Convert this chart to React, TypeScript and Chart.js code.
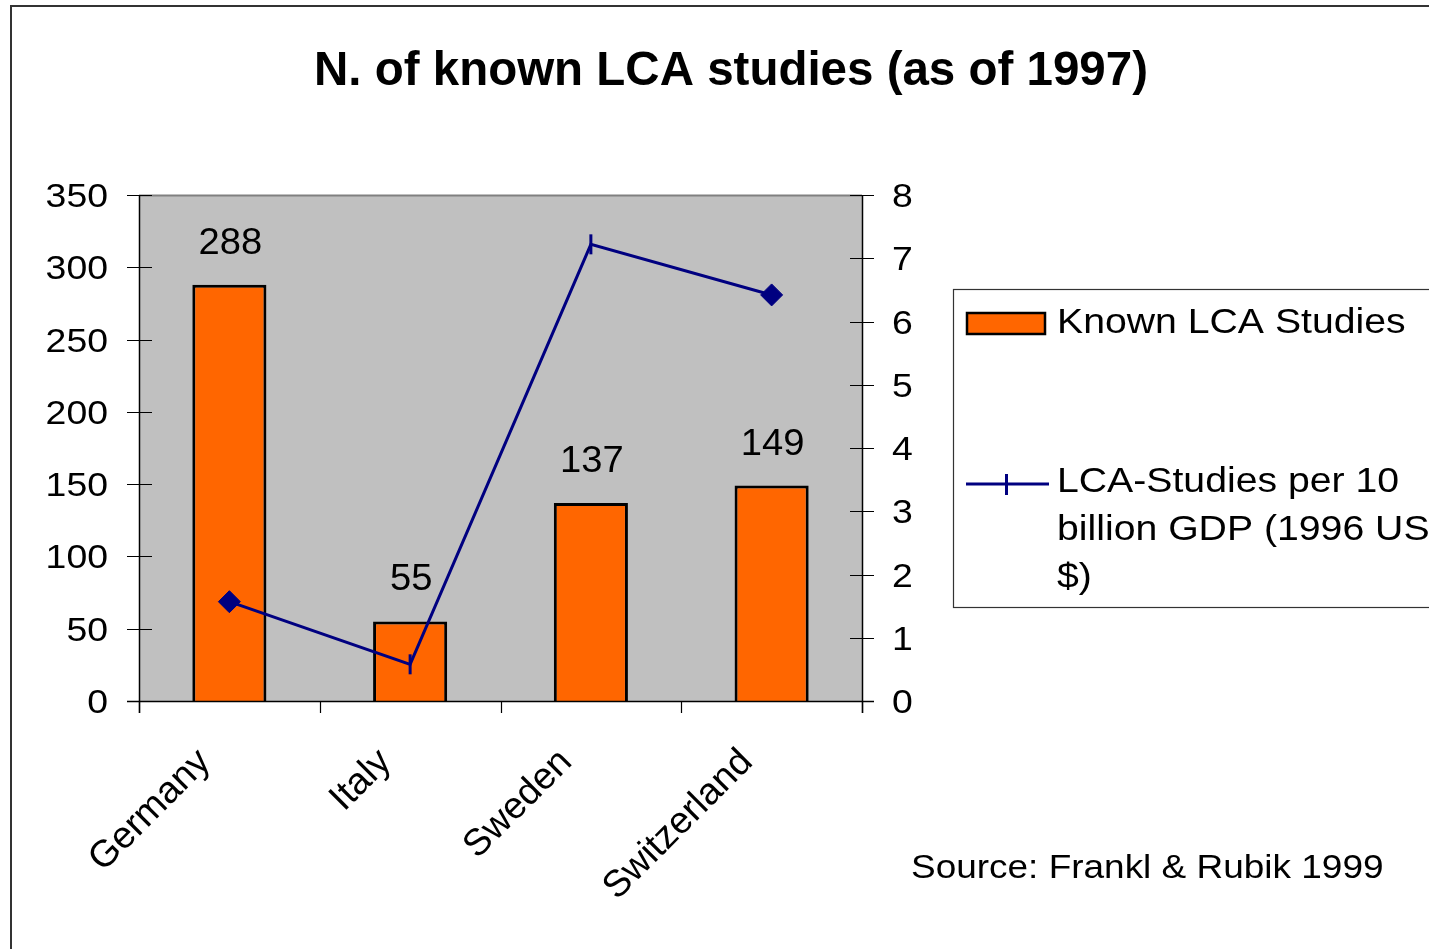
import React, { useEffect, useRef } from "react";
import { Chart, registerables } from "chart.js";

Chart.register(...registerables);

const categories = ["Germany", "Italy", "Sweden", "Switzerland"];
const knownStudies = [288, 55, 137, 149];
const perGdp = [1.57, 0.58, 7.22, 6.42];
const leftTicks = [0, 50, 100, 150, 200, 250, 300, 350];
const rightTicks = [0, 1, 2, 3, 4, 5, 6, 7, 8];
const titleText = "N. of known LCA studies (as of 1997)";
const barLabel = "Known LCA Studies";
const lineLabelLines = ["LCA-Studies per 10", "billion GDP (1996 US", "$)"];
const sourceText = "Source: Frankl & Rubik 1999";

const FONT = "'Liberation Sans', Arial, sans-serif";

function txt(ctx: CanvasRenderingContext2D, s: string, x: number, y: number, font: string, sx: number, align: CanvasTextAlign) {
  ctx.save();
  ctx.font = font;
  ctx.textAlign = align;
  ctx.textBaseline = "alphabetic";
  ctx.fillStyle = "#000";
  ctx.translate(x, y);
  ctx.scale(sx, 1);
  ctx.fillText(s, 0, 0);
  ctx.restore();
}

const decorPlugin = {
  id: "decor",
  beforeDatasetsDraw(chart: any) {
    const { ctx, chartArea: a } = chart;
    ctx.save();
    ctx.fillStyle = "#C0C0C0";
    ctx.fillRect(a.left, a.top, a.right - a.left, a.bottom - a.top);
    ctx.strokeStyle = "#808080";
    ctx.lineWidth = 2;
    ctx.beginPath();
    ctx.moveTo(a.left, a.top + 0.5);
    ctx.lineTo(a.right, a.top + 0.5);
    ctx.stroke();
    ctx.restore();
  },
  afterDatasetsDraw(chart: any) {
    const { ctx, chartArea: a } = chart;
    const xs = chart.scales.x;
    const ys = chart.scales.y;
    const y1 = chart.scales.y1;
    ctx.save();
    // axes
    ctx.strokeStyle = "#000";
    ctx.lineWidth = 1.5;
    ctx.beginPath();
    ctx.moveTo(a.left + 0.5, a.top);
    ctx.lineTo(a.left + 0.5, a.bottom + 12);
    ctx.moveTo(a.right + 0.5, a.top);
    ctx.lineTo(a.right + 0.5, a.bottom + 12);
    ctx.moveTo(a.left - 12, a.bottom + 0.5);
    ctx.lineTo(a.right + 12, a.bottom + 0.5);
    ctx.stroke();
    ctx.lineWidth = 1.2;
    ctx.beginPath();
    leftTicks.forEach((v) => {
      const y = Math.round(ys.getPixelForValue(v)) + 0.5;
      ctx.moveTo(a.left - 12, y);
      ctx.lineTo(a.left + 13, y);
    });
    rightTicks.forEach((v) => {
      const y = Math.round(y1.getPixelForValue(v)) + 0.5;
      ctx.moveTo(a.right - 12, y);
      ctx.lineTo(a.right + 12, y);
    });
    const cw = xs.getPixelForValue(1) - xs.getPixelForValue(0);
    for (let i = 0; i <= categories.length; i++) {
      const x = Math.round(xs.getPixelForValue(0) - cw / 2 + i * cw) + 0.5;
      ctx.moveTo(x, a.bottom);
      ctx.lineTo(x, a.bottom + 12);
    }
    ctx.stroke();
    ctx.restore();

    // tick labels
    leftTicks.forEach((v) => {
      txt(ctx, String(v), 108, ys.getPixelForValue(v) + 12, `34px ${FONT}`, 1.1, "right");
    });
    rightTicks.forEach((v) => {
      txt(ctx, String(v), 892, y1.getPixelForValue(v) + 12, `34px ${FONT}`, 1.1, "left");
    });
    // data labels
    knownStudies.forEach((v, i) => {
      txt(ctx, String(v), xs.getPixelForValue(i) + 1, ys.getPixelForValue(v) - 31, `36px ${FONT}`, 1.06, "center");
    });
    // category labels
    categories.forEach((c, i) => {
      ctx.save();
      ctx.translate(xs.getPixelForValue(i) - 38, a.bottom + 42);
      ctx.rotate(-Math.PI / 4);
      ctx.font = `37.5px ${FONT}`;
      ctx.textAlign = "right";
      ctx.textBaseline = "top";
      ctx.fillStyle = "#000";
      ctx.fillText(c, 0, 0);
      ctx.restore();
    });
  },
  afterDraw(chart: any) {
    const { ctx } = chart;
    // title
    txt(ctx, titleText, 731, 85, `bold 47.5px ${FONT}`, 1, "center");
    // legend box
    ctx.save();
    ctx.fillStyle = "#fff";
    ctx.strokeStyle = "#333";
    ctx.lineWidth = 1.2;
    ctx.fillRect(953, 289, 500, 318);
    ctx.strokeRect(953.5, 289.5, 500, 318);
    ctx.fillStyle = "#FF6600";
    ctx.strokeStyle = "#000";
    ctx.lineWidth = 2.5;
    ctx.fillRect(967, 313, 78, 21);
    ctx.strokeRect(967, 313, 78, 21);
    ctx.strokeStyle = "#000080";
    ctx.lineWidth = 3;
    ctx.beginPath();
    ctx.moveTo(966, 484);
    ctx.lineTo(1049, 484);
    ctx.moveTo(1006.5, 474);
    ctx.lineTo(1006.5, 495);
    ctx.stroke();
    ctx.restore();
    txt(ctx, barLabel, 1057, 333, `35px ${FONT}`, 1.12, "left");
    lineLabelLines.forEach((l, i) => {
      txt(ctx, l, 1057, 492 + i * 48, `35px ${FONT}`, 1.12, "left");
    });
    // source
    txt(ctx, sourceText, 911, 878, `33px ${FONT}`, 1.12, "left");
    // outer frame
    ctx.save();
    ctx.strokeStyle = "#333";
    ctx.lineWidth = 2;
    ctx.beginPath();
    ctx.moveTo(11, 949);
    ctx.lineTo(11, 6);
    ctx.lineTo(1429, 6);
    ctx.stroke();
    ctx.restore();
  },
};

export default function App() {
  const ref = useRef<HTMLCanvasElement | null>(null);
  useEffect(() => {
    if (!ref.current) return;
    const chart = new Chart(ref.current, {
      type: "bar",
      data: {
        labels: categories,
        datasets: [
          {
            type: "line",
            label: lineLabelLines.join(" "),
            data: perGdp,
            yAxisID: "y1",
            borderColor: "#000080",
            borderWidth: 3,
            pointStyle: ["rectRot", "line", "line", "rectRot"] as any,
            pointRotation: [0, 90, 90, 0],
            pointRadius: [11, 10, 10, 11],
            pointBorderWidth: [1, 3, 3, 1],
            pointBackgroundColor: "#000080",
            pointBorderColor: "#000080",
            tension: 0,
            order: 1,
          } as any,
          {
            type: "bar",
            label: barLabel,
            data: knownStudies,
            yAxisID: "y",
            backgroundColor: "#FF6600",
            borderColor: "#000",
            borderWidth: 3,
            barPercentage: 0.41,
            categoryPercentage: 1,
            order: 2,
          },
        ],
      },
      options: {
        responsive: false,
        animation: false,
        devicePixelRatio: 1,
        layout: { padding: { left: 139, top: 195, right: 567, bottom: 248 } },
        plugins: { legend: { display: false }, tooltip: { enabled: false }, title: { display: false } },
        scales: {
          x: { display: false, offset: true },
          y: { display: false, min: 0, max: 350 },
          y1: { display: false, min: 0, max: 8, position: "right" },
        },
      },
      plugins: [decorPlugin],
    });
    return () => chart.destroy();
  }, []);
  return (
    <div style={{ position: "absolute", left: 0, top: 0, width: 1429, height: 949, background: "#fff" }}>
      <canvas ref={ref} width={1429} height={949} style={{ display: "block" }} />
    </div>
  );
}
